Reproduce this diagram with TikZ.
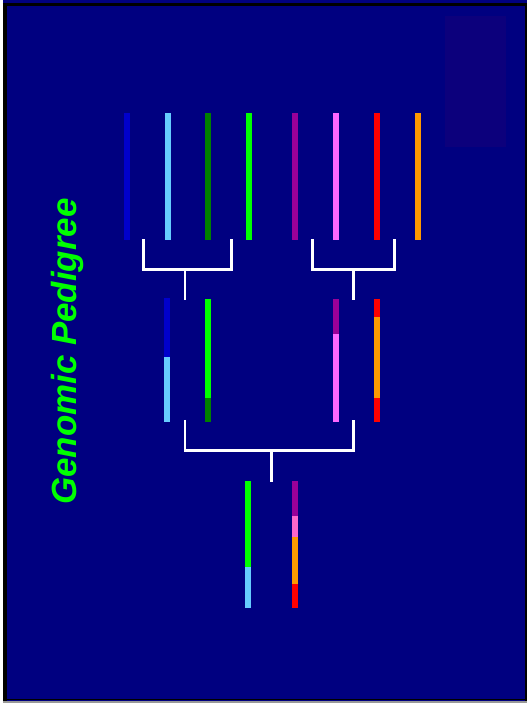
\documentclass[tikz,border=0pt]{standalone}
\usepackage{fontspec}
\setmainfont{Liberation Sans}
\usetikzlibrary{positioning}
\definecolor{slide}{HTML}{000080}
\definecolor{shadebox}{HTML}{0C007C}
\definecolor{chrA}{HTML}{0000CC}
\definecolor{chrB}{HTML}{66CCFF}
\definecolor{chrC}{HTML}{008000}
\definecolor{chrD}{HTML}{00FF00}
\definecolor{chrE}{HTML}{990099}
\definecolor{chrF}{HTML}{FF66FF}
\definecolor{chrG}{HTML}{FF0000}
\definecolor{chrH}{HTML}{FF9900}
\definecolor{chrF2}{HTML}{FF66CC}
\tikzset{
  bracketline/.style={white, line width=2.8pt},
  heading/.style={rotate=90, anchor=base, inner sep=0pt, text=chrD,
    font=\bfseries\itshape\fontsize{35}{35}\selectfont}
}

\begin{document}
\begin{tikzpicture}[x=1pt,y=-1pt]
% slide background and frame
\fill[slide] (0,0) rectangle (528,705);
\fill[white] (0,0) rectangle (3,705);
\draw[black, line width=3pt] (3,4.3) -- (528,4.3);
\draw[black, line width=4pt] (5,3) -- (5,705);
\draw[black, line width=2pt] (527,3) -- (527,705);
\draw[black, line width=1pt] (3,701.5) -- (528,701.5);
\draw[black!40, line width=2pt] (3,704) -- (528,704);
\fill[shadebox] (446,16) rectangle (507,147);

\node[heading] (title) at (77,352.5) {Genomic Pedigree};

% grandparents
\foreach \x/\c in {127/chrA,168/chrB,209/chrC,250/chrD,296/chrE,337/chrF,378/chrG,419/chrH}
  \fill[\c] (\x-3,113) rectangle (\x+3,241);

% parents
\foreach \x/\ya/\yb/\c in {167/299/358/chrA,167/358/423/chrB,
    208.5/300/399/chrD,208.5/399/423/chrC,
    337/300/335/chrE,337/335/423/chrF,
    378/300/318/chrG,378/318/399/chrH,378/399/423/chrG}
  \fill[\c] (\x-3,\ya) rectangle (\x+3,\yb);

% child
\foreach \x/\ya/\yb/\c in {249/482/569/chrD,249/569/610/chrB,
    296/482/517/chrE,296/517/539/chrF2,296/539/586/chrH,296/586/610/chrG}
  \fill[\c] (\x-3,\ya) rectangle (\x+3,\yb);

% brackets
\coordinate (pa) at (144,240);
\coordinate (pb) at (232,240);
\coordinate (pc) at (313,240);
\coordinate (pd) at (396,240);
\coordinate (ma) at (185.5,270);
\coordinate (mb) at (354.5,270);
\coordinate (fa) at (185.5,301);
\coordinate (fb) at (354.5,301);
\coordinate (qa) at (185.5,421);
\coordinate (qb) at (354.5,421);
\coordinate (mc) at (272.5,452);
\coordinate (fc) at (272.5,483);
\draw[bracketline] (pa) |- (ma) -| (pb);
\draw[bracketline] (ma) -- (fa);
\draw[bracketline] (pc) |- (mb) -| (pd);
\draw[bracketline] (mb) -- (fb);
\draw[bracketline] (qa) |- (mc) -| (qb);
\draw[bracketline] (mc) -- (fc);
\end{tikzpicture}
\end{document}
